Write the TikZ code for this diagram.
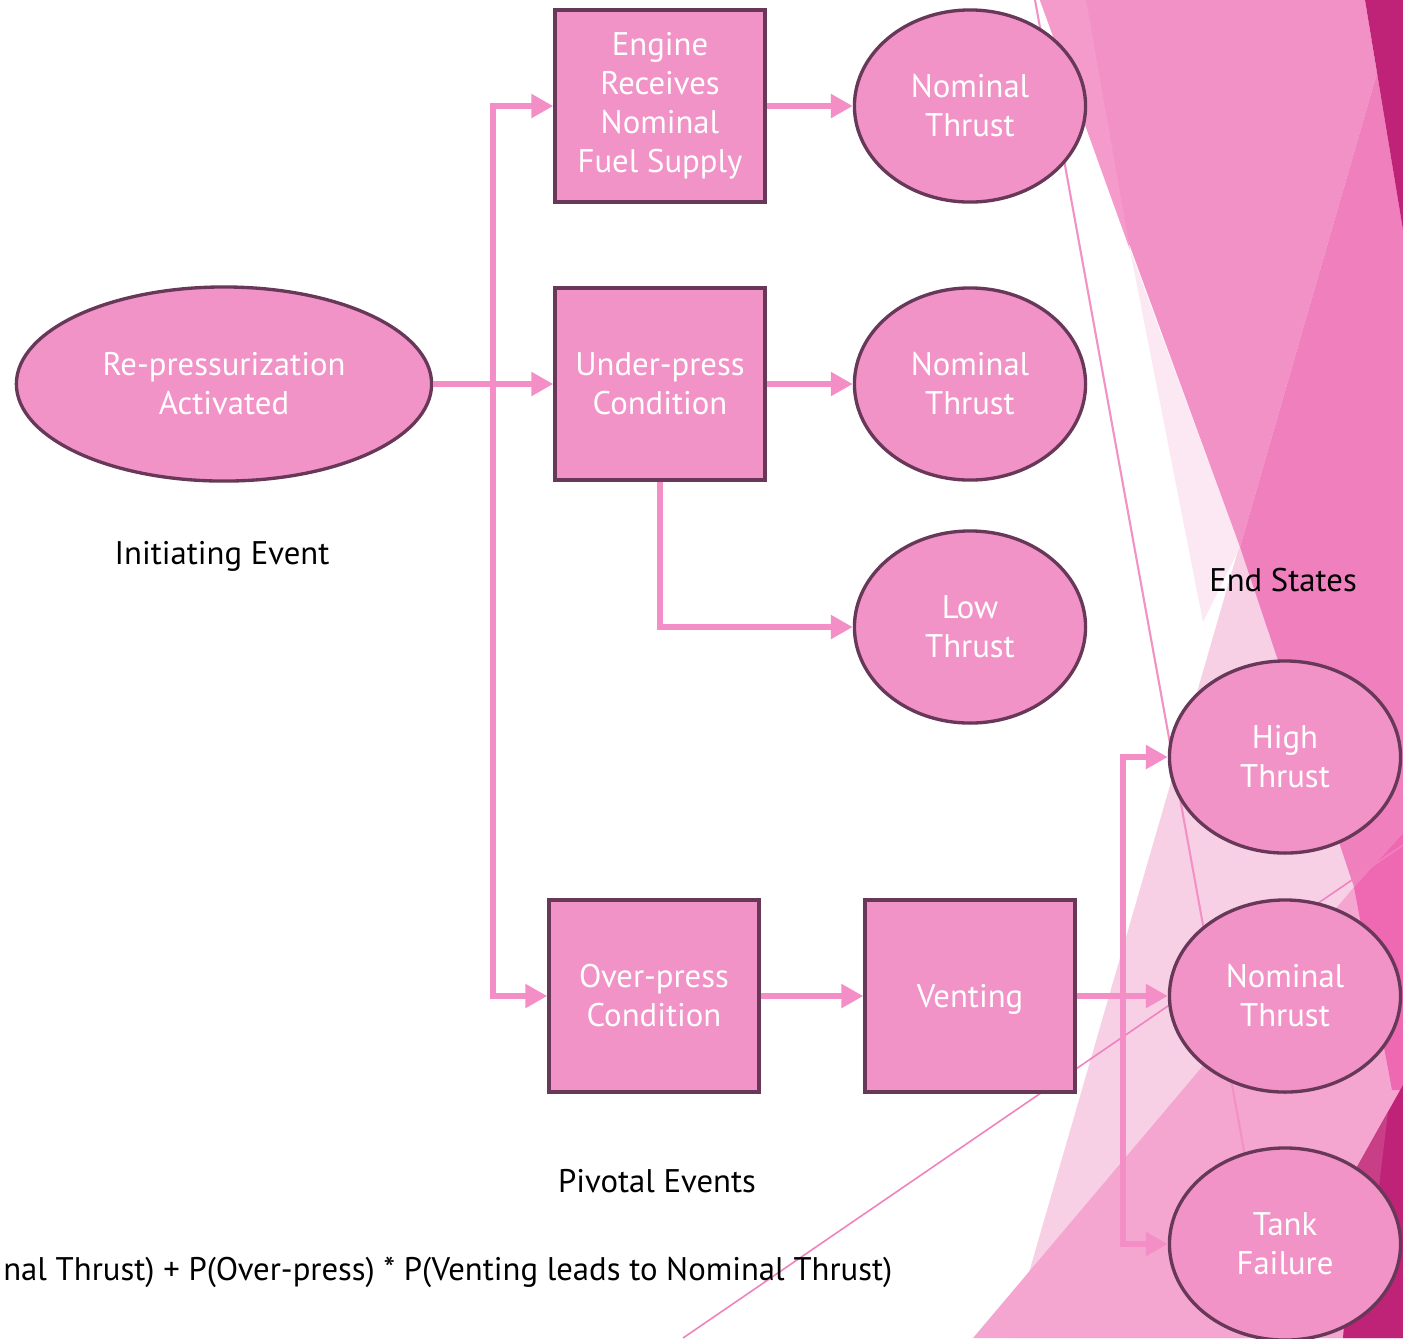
\documentclass[tikz,border=0pt]{standalone}
\usepackage{fontspec}
\setmainfont{PT Sans}
\usetikzlibrary{shapes.geometric,arrows.meta}

% palette
\definecolor{nodefill}{RGB}{242,147,199}
\definecolor{nodeline}{RGB}{104,56,88}
\definecolor{linkpink}{RGB}{243,143,198}
\definecolor{facetmid}{RGB}{242,145,197}
\definecolor{facetmidlt}{RGB}{245,155,203}
\definecolor{facetrose}{RGB}{239,128,189}
\definecolor{facethot}{RGB}{238,104,178}
\definecolor{facetdark}{RGB}{190,35,119}
\definecolor{facetdarklt}{RGB}{200,63,135}
\definecolor{facetlight}{RGB}{248,208,230}
\definecolor{facetpale}{RGB}{251,232,242}
\definecolor{facetsoft}{RGB}{244,166,208}
\definecolor{facetline}{RGB}{240,130,190}

\begin{document}
\begin{tikzpicture}[x=0.01cm,y=-0.01cm,
  evt/.style={draw=nodeline,line width=0.95pt,fill=nodefill,text=white,align=center,
              font=\fontsize{9.3}{11.1}\selectfont,inner sep=0pt},
  ellnode/.style={evt,ellipse,minimum width=2.31cm,minimum height=1.92cm},
  boxnode/.style={evt,rectangle,minimum width=2.1cm,minimum height=1.92cm},
  link/.style={draw=linkpink,line width=1.7pt,-{Triangle[length=2.2mm,width=2.3mm]}},
  caption/.style={font=\fontsize{9.3}{11.1}\selectfont,text=black,inner sep=0pt}]

\clip (0,0) rectangle (1403,1338);
\fill[white] (0,0) rectangle (1403,1338);

% faceted decoration on the right
\fill[facetlight] (1380,60) -- (1403,60) -- (1403,1338) -- (1010,1338) -- cycle;
\fill[facetpale] (1130,250) -- (1240,547) -- (1203,622) -- cycle;
\fill[facetsoft] (973,1338) -- (1354,887) -- (1403,833) -- (1403,1338) -- cycle;
\fill[facethot] (1354,887) -- (1403,833) -- (1403,1090) -- (1392,1090) -- cycle;
\fill[facetrose] (1377,73) -- (1403,230) -- (1403,833) -- (1354,887) -- (1240,547) -- cycle;
\fill[facetmid] (1040,0) -- (1365,0) -- (1377,73) -- (1240,547) -- cycle;
\fill[facetmidlt] (1040,0) -- (1086,0) -- (1130,250) -- cycle;
\fill[facetdark] (1365,0) -- (1403,0) -- (1403,230) -- cycle;
\fill[facetdark] (1403,1085) -- (1403,1338) -- (1343,1338) -- (1357,1167) -- cycle;
\fill[facetdarklt] (1357,1167) -- (1388,1112) -- (1370,1260) -- cycle;
\draw[facetmid,line width=0.6pt] (1035,0) -- (1278,1338);
\draw[facetline,line width=0.45pt] (683,1338) -- (1403,845);

% initiating event
\node[evt,ellipse,minimum width=4.15cm,minimum height=1.94cm] (repress) at (224,384)
  {Re-pressurization\\Activated};

% pivotal events
\node[boxnode] (engine) at (660,106) {Engine\\Receives\\Nominal\\Fuel Supply};
\node[boxnode] (under) at (660,384) {Under-press\\Condition};
\node[boxnode] (overp) at (654,996) {Over-press\\Condition};
\node[boxnode,text depth=0pt] (venting) at (970,996) {Venting};

% end states
\node[ellnode] (nomA) at (970,106) {Nominal\\Thrust};
\node[ellnode] (nomB) at (970,384) {Nominal\\Thrust};
\node[ellnode] (low) at (970,627) {Low\\Thrust};
\node[ellnode] (high) at (1285,757) {High\\Thrust};
\node[ellnode] (nomC) at (1285,996) {Nominal\\Thrust};
\node[ellnode] (tank) at (1285,1244) {Tank\\Failure};

% branch points
\coordinate (split) at (493,384);
\coordinate (vsplit) at (1123,996);

% connectors
\draw[link] (repress.east) -- (under.west);
\draw[link] (split) |- (engine.west);
\draw[link] (split) |- (overp.west);
\draw[link] (engine.east) -- (nomA.west);
\draw[link] (under.east) -- (nomB.west);
\draw[link] (under.south) |- (low.west);
\draw[link] (overp.east) -- (venting.west);
\draw[link] (venting.east) -- (nomC.west);
\draw[link] (vsplit) |- (high.west);
\draw[link] (vsplit) |- (tank.west);

% captions
\node[caption] (cinit) at (222,556) {Initiating Event};
\node[caption] (cpiv) at (657,1181) {Pivotal Events};
\node[caption] (cend) at (1283,580) {End States};
\node[caption,anchor=base east] (formula) at (893,1280)
  {nal Thrust) + P(Over-press) * P(Venting leads to Nominal Thrust)};
\end{tikzpicture}
\end{document}
